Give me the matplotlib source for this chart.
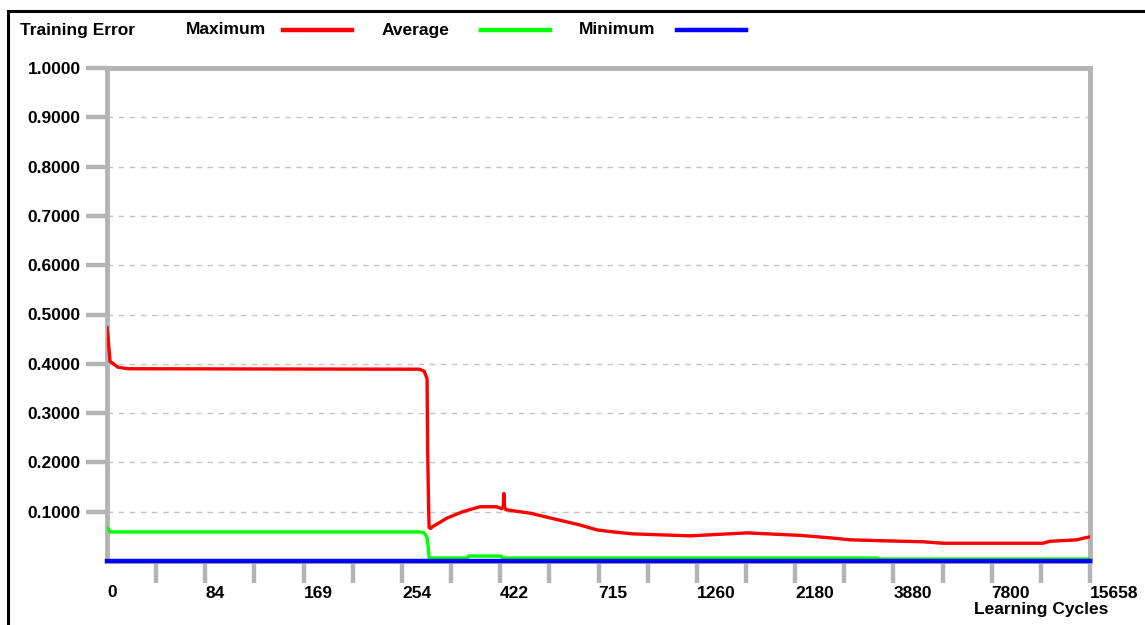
import numpy as np
import matplotlib
matplotlib.use("Agg")
import matplotlib.pyplot as plt
from matplotlib.lines import Line2D
from matplotlib.patches import Rectangle

# ---- data ----
cycle_labels = [0, 84, 169, 254, 422, 715, 1260, 2180, 3880, 7800, 15658]
y_ticks = [0.1, 0.2, 0.3, 0.4, 0.5, 0.6, 0.7, 0.8, 0.9, 1.0]

max_cycles = [0, 1, 2.6, 9.4, 18, 284, 292, 297, 298, 299.5, 300.5, 303, 307, 331,
              358, 387, 416, 427, 431, 433, 435, 439, 511, 660, 711, 796, 906,
              1222, 1730, 2265, 2784, 3130, 3700, 5060, 5860, 11900, 12460,
              14620, 15257, 15658]
max_err = [0.473, 0.45, 0.405, 0.393, 0.390, 0.389, 0.385, 0.370, 0.225, 0.120,
           0.068, 0.066, 0.070, 0.087, 0.100, 0.110, 0.110, 0.106, 0.110, 0.137,
           0.110, 0.104, 0.097, 0.073, 0.063, 0.059, 0.055, 0.051, 0.057, 0.052,
           0.047, 0.043, 0.041, 0.039, 0.036, 0.036, 0.040, 0.043, 0.047, 0.049]

avg_cycles = [0, 2.6, 284, 292, 297, 299, 300.5, 305, 366, 368, 425, 430, 3600,
              3650, 15658]
avg_err = [0.067, 0.059, 0.059, 0.057, 0.048, 0.028, 0.007, 0.006, 0.006, 0.010,
           0.010, 0.006, 0.006, 0.004, 0.004]

min_cycles = [0, 15658]
min_err = [0.001, 0.001]

# ---- styling ----
W, H = 1145, 625
GRAY = "#b4b4b4"
plt.rcParams['font.family'] = ['Liberation Sans', 'DejaVu Sans']
plt.rcParams['font.weight'] = 'bold'
FS = 12.5

fig = plt.figure(figsize=(W / 100, H / 100), dpi=100)
fig.patch.set_facecolor("white")

# outer black frame
fig.patches.append(Rectangle((8 / W, -0.2), 2.0, (625 - 11) / 625 + 0.2,
                             transform=fig.transFigure, fill=False,
                             edgecolor="black", linewidth=2.2, clip_on=False))

ax = fig.add_axes([107 / W, 1 - 561 / H, (1090 - 107) / W, (561 - 68) / H])

positions = np.arange(len(cycle_labels), dtype=float)
labels_arr = np.array(cycle_labels, dtype=float)


def fwd(x):
    return np.interp(x, labels_arr, positions)


def inv(p):
    return np.interp(p, positions, labels_arr)


ax.set_xscale('function', functions=(fwd, inv))
ax.set_xlim(0, cycle_labels[-1])
ax.set_ylim(0, 1.0)

# gridlines
for yv in y_ticks[:-1]:
    ax.axhline(yv, color="#c4c4c4", lw=1.0, ls=(0, (4, 4)), zorder=1)

ax.plot(max_cycles, max_err, color="#ff0000", lw=2.4, zorder=3,
        solid_joinstyle='round')
ax.plot(avg_cycles, avg_err, color="#00ff00", lw=2.4, zorder=4,
        solid_joinstyle='round')
ax.plot(min_cycles, min_err, color="#0000ff", lw=3.2, zorder=5, clip_on=False)

for s in ['left', 'top', 'right', 'bottom']:
    ax.spines[s].set_color(GRAY)
    ax.spines[s].set_linewidth(3.5)
ax.spines['top'].set_capstyle('projecting')

# x ticks: major at labels, minor at midpoints
mids = [(a + b) / 2 for a, b in zip(cycle_labels[:-1], cycle_labels[1:])]
ax.set_xticks(cycle_labels[1:])
ax.set_xticks(mids, minor=True)
ax.tick_params(axis='x', which='both', length=16, width=3.2, color=GRAY,
               direction='out', pad=2)
ax.set_xticklabels([str(v) for v in cycle_labels[1:]], fontsize=FS,
                   fontweight='bold', ha='left')
# label "0" at origin (no tick there)
ax.text(0, -(585 - 561) / (561 - 68), str(cycle_labels[0]),
        transform=ax.get_xaxis_transform(), fontsize=FS,
        fontweight='bold', ha='left', va='top')

ax.set_yticks(y_ticks)
ax.set_yticklabels([f"{v:.4f}" for v in y_ticks], fontsize=FS,
                   fontweight='bold')
ax.tick_params(axis='y', length=15, width=3.2, color=GRAY, direction='out',
               pad=4)

# header text & legend
fy = 1 - 30 / H
fig.text(20 / W, fy, "Training Error", fontsize=FS, fontweight='bold',
         va='center', ha='left')
legend_items = [("Maximum", 186, 283, "#ff0000"),
                ("Average", 382, 481, "#00ff00"),
                ("Minimum", 579, 677, "#0000ff")]
for name, tx, lx, col in legend_items:
    fig.text(tx / W, fy, name, fontsize=FS, fontweight='bold', va='center',
             ha='left')
    fig.add_artist(Line2D([lx / W, (lx + 69) / W], [fy, fy], color=col,
                          lw=3.2, transform=fig.transFigure))

fig.text(1108 / W, 1 - 602 / H, "Learning Cycles", fontsize=FS,
         fontweight='bold', ha='right', va='top')

fig.savefig("out.png", dpi=100, facecolor="white")
